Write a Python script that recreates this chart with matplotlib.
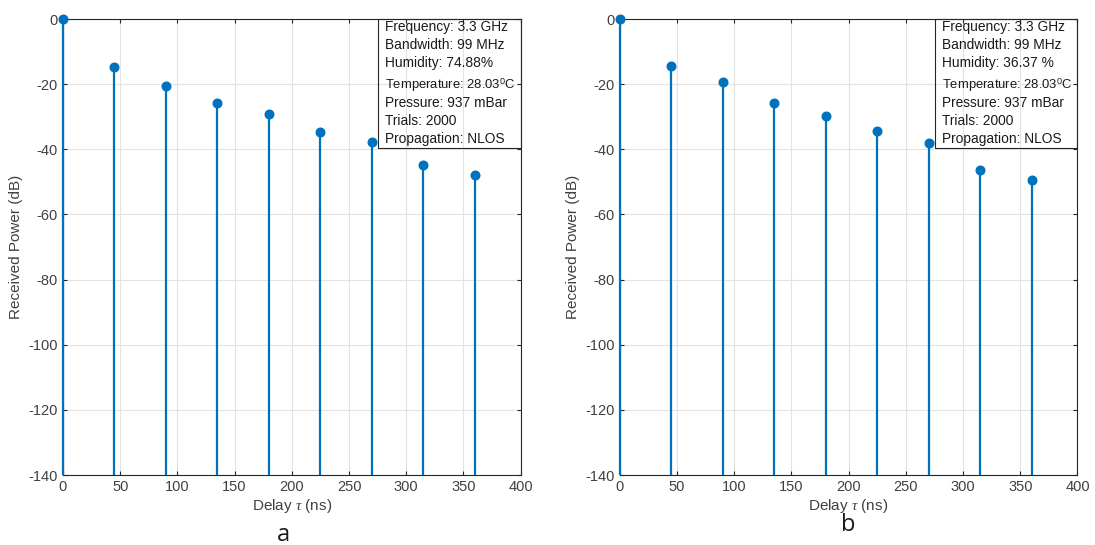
import numpy as np
import matplotlib.pyplot as plt
from matplotlib.patches import Rectangle

# delays (ns) and received power (dB)
DELAY = [0, 45, 90, 135, 180, 225, 270, 315, 360]
POWER_A = [0, -14.7, -20.6, -25.8, -29.2, -34.7, -37.8, -44.8, -47.9]
POWER_B = [0, -14.4, -19.3, -25.8, -29.8, -34.4, -38.1, -46.4, -49.4]

INFO_A = ["Frequency: 3.3 GHz", "Bandwidth: 99 MHz", "Humidity: 74.88%",
          "Temperature: 28.03$^{0}$C", "Pressure: 937 mBar", "Trials: 2000",
          "Propagation: NLOS"]
INFO_B = ["Frequency: 3.3 GHz", "Bandwidth: 99 MHz", "Humidity: 36.37 %",
          "Temperature: 28.03$^{0}$C", "Pressure: 937 mBar", "Trials: 2000",
          "Propagation: NLOS"]

STEM_COLOR = "#0072BD"
TEXT_COLOR = "#404040"
BASE = -140

plt.rcParams.update({
    "font.family": ["Liberation Sans", "DejaVu Sans"],
    "font.size": 10.5,
    "axes.unicode_minus": False,
    "mathtext.fontset": "custom",
    "mathtext.rm": "Liberation Sans",
    "mathtext.it": "Liberation Serif:italic",
})


def draw_panel(ax, power, info):
    ml, sl, bl = ax.stem(DELAY, power, bottom=BASE, basefmt=" ")
    plt.setp(sl, color=STEM_COLOR, linewidth=1.6, zorder=3)
    plt.setp(ml, color=STEM_COLOR, markersize=6.2, zorder=4)
    ml.set_clip_on(False)
    sl.set_clip_on(False)

    ax.set_xlim(0, 400)
    ax.set_ylim(-140, 0)
    ax.set_xticks(np.arange(0, 401, 50))
    ax.set_yticks(np.arange(-140, 1, 20))
    ax.grid(True, color="#e3e3e3", linewidth=0.8)
    ax.set_axisbelow(True)
    ax.tick_params(direction="in", top=True, right=True, length=3,
                   colors="#262626", labelcolor=TEXT_COLOR, labelsize=10.5)
    for s in ax.spines.values():
        s.set_color("#262626")
        s.set_linewidth(0.8)

    ax.set_xlabel(r"Delay $\it{\tau}$ (ns)", color=TEXT_COLOR, labelpad=2, fontsize=11)
    ax.set_ylabel("Received Power (dB)", color=TEXT_COLOR, labelpad=4, fontsize=11)

    # info box: open frame in the upper-right corner, one text per line
    ax.add_patch(Rectangle((0.688, 0.717), 0.312, 0.283, transform=ax.transAxes,
                           facecolor="none", edgecolor="#262626", linewidth=0.8,
                           zorder=2, clip_on=False))
    y = 0.9737
    for i, line in enumerate(info):
        if "$" in line:
            y -= 0.0088  # the superscript line sits a little lower
        ax.text(0.703, y, line, transform=ax.transAxes,
                ha="left", va="baseline", color="#1a1a1a", zorder=2,
                fontsize=9.4 if "$" in line else 9.9)
        y -= 0.0395


fig = plt.figure(figsize=(10.95, 5.45), dpi=100)
ax_a = fig.add_axes([0.0575, 0.1284, 0.418, 0.8367])
ax_b = fig.add_axes([0.566, 0.1284, 0.418, 0.8367])

draw_panel(ax_a, POWER_A, INFO_A)
draw_panel(ax_b, POWER_B, INFO_B)

fig.text(283 / 1095, 1 - 535 / 545, "a", ha="center", va="center", fontsize=17,
         family=["Open Sans", "DejaVu Sans"], color="#1a1a1a")
fig.text(848 / 1095, 1 - 525 / 545, "b", ha="center", va="center", fontsize=17,
         family=["Open Sans", "DejaVu Sans"], color="#1a1a1a")

fig.savefig("out.png", dpi=100)
